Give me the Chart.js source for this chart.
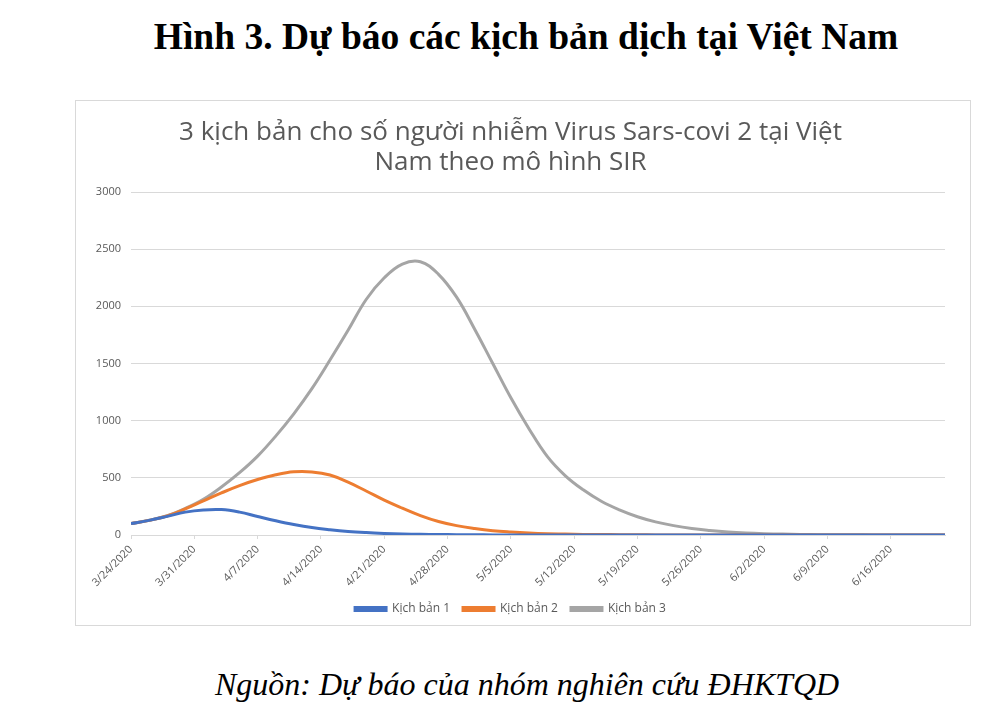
<!DOCTYPE html>
<html>
<head>
  <title>Hình 3. Dự báo các kịch bản dịch tại Việt Nam</title>
  <meta http-equiv="Content-Type" content="text/html; charset=utf-8" />
  <script src="https://cdn.jsdelivr.net/npm/chart.js@4.4.1/dist/chart.umd.min.js"></script>
  <style>
    body {
      margin: 0;
      background-color: #ffffff;
      width: 1000px;
      height: 710px;
      position: relative;
      overflow: hidden;
    }

    #heading {
      position: absolute;
      left: 0;
      top: 15px;
      width: 1052px;
      text-align: center;
      font: bold 37.5px "Liberation Serif", serif;
      color: #000000;
    }

    #box {
      position: absolute;
      left: 75px;
      top: 100px;
      width: 894px;
      height: 524px;
      border: 1px solid #d9d9d9;
    }

    #source {
      position: absolute;
      left: 0;
      top: 666px;
      width: 1054px;
      text-align: center;
      font: italic 32px "Liberation Serif", serif;
      color: #000000;
    }
  </style>
</head>
<body>
  <div id="heading">Hình 3. Dự báo các kịch bản dịch tại Việt Nam</div>
  <div id="box"><canvas id="sirChart"></canvas></div>
  <div id="source">Nguồn: Dự báo của nhóm nghiên cứu ĐHKTQD</div>
  <script>
    // days since 3/24/2020, sampled every 2 days
    var days = [0, 2, 4, 6, 8, 10, 12, 14, 16, 18, 20, 22, 24, 26, 28, 30, 32, 34, 36, 38, 40, 42, 44,
                46, 48, 50, 52, 54, 56, 58, 60, 62, 64, 66, 68, 70, 72, 74, 76, 78, 80, 82, 84, 86, 88, 90];

    var kichBan1 = [100, 128, 163, 200, 219, 222, 200, 162, 125, 92, 65, 46, 31, 21, 14, 9, 6, 4, 3, 2, 1, 1, 1,
                    0, 0, 0, 0, 0, 0, 0, 0, 0, 0, 0, 0, 0, 0, 0, 0, 0, 0, 0, 0, 0, 0, 0];
    var kichBan2 = [100, 128, 166, 228, 298, 368, 432, 485, 527, 553, 552, 525, 462, 385, 305, 235, 170, 118, 82, 57, 38, 26, 17,
                    11, 8, 5, 4, 3, 2, 1, 1, 1, 0, 0, 0, 0, 0, 0, 0, 0, 0, 0, 0, 0, 0, 0];
    var kichBan3 = [100, 129, 168, 232, 312, 420, 545, 690, 865, 1060, 1280, 1530, 1790, 2060, 2250, 2370, 2390, 2280, 2080, 1800, 1500, 1200, 930,
                    690, 520, 395, 295, 220, 160, 115, 82, 57, 40, 27, 18, 12, 8, 5, 3, 2, 2, 1, 1, 0, 0, 0];

    var seriesNames = ["Kịch bản 1", "Kịch bản 2", "Kịch bản 3"];
    var tickLabels = ["3/24/2020", "3/31/2020", "4/7/2020", "4/14/2020", "4/21/2020", "4/28/2020", "5/5/2020",
                      "5/12/2020", "5/19/2020", "5/26/2020", "6/2/2020", "6/9/2020", "6/16/2020"];
    var titleLines = ["3 kịch bản cho số người nhiễm Virus Sars-covi 2 tại Việt", "Nam theo mô hình SIR"];

    function toPoints(values) {
      return days.map(function (d, i) { return { x: d, y: values[i] }; });
    }

    var colors = ["#4472C4", "#ED7D31", "#A5A5A5"];
    var allSeries = [kichBan1, kichBan2, kichBan3];

    var ctx = document.getElementById("sirChart");
    var chart = new Chart(ctx, {
      type: 'line',
      data: {
        datasets: allSeries.map(function (s, i) {
          return {
            label: seriesNames[i],
            data: toPoints(s),
            borderColor: colors[i],
            backgroundColor: colors[i],
            borderWidth: 3,
            pointRadius: 0,
            tension: 0.4
          };
        })
      },
      options: {
        responsive: true,
        maintainAspectRatio: false,
        animation: false,
        layout: {
          padding: { top: 0, right: 25, bottom: 0, left: 0 }
        },
        plugins: {
          title: {
            display: true,
            text: titleLines,
            color: '#595959',
            font: { family: 'Open Sans', size: 26, weight: 'normal', lineHeight: 1.154 },
            padding: { top: 17, bottom: 14 }
          },
          legend: {
            position: 'bottom',
            labels: {
              boxWidth: 31,
              boxHeight: 3,
              padding: 13,
              color: '#595959',
              font: { family: 'Open Sans', size: 12 }
            }
          },
          tooltip: { enabled: false }
        },
        scales: {
          x: {
            type: 'linear',
            min: 0,
            max: 90,
            afterBuildTicks: function (scale) {
              scale.ticks = tickLabels.map(function (t, i) { return { value: i * 7 }; });
            },
            afterFit: function (scale) { scale.height = 55; },
            ticks: {
              autoSkip: false,
              maxRotation: 45,
              minRotation: 45,
              padding: 4,
              color: '#595959',
              font: { family: 'Open Sans', size: 11 },
              callback: function (value) { return tickLabels[value / 7]; }
            },
            grid: {
              drawOnChartArea: false,
              drawTicks: true,
              tickLength: 4,
              color: '#d9d9d9'
            },
            border: { color: '#d9d9d9', width: 1 }
          },
          y: {
            min: 0,
            max: 3000,
            afterFit: function (scale) { scale.width = 55; },
            ticks: {
              stepSize: 500,
              padding: 10,
              color: '#595959',
              font: { family: 'Open Sans', size: 11 },
              callback: function (value) { return String(value); }
            },
            grid: {
              color: '#d9d9d9',
              drawTicks: false
            },
            border: { display: false }
          }
        }
      }
    });
  </script>
</body>
</html>
